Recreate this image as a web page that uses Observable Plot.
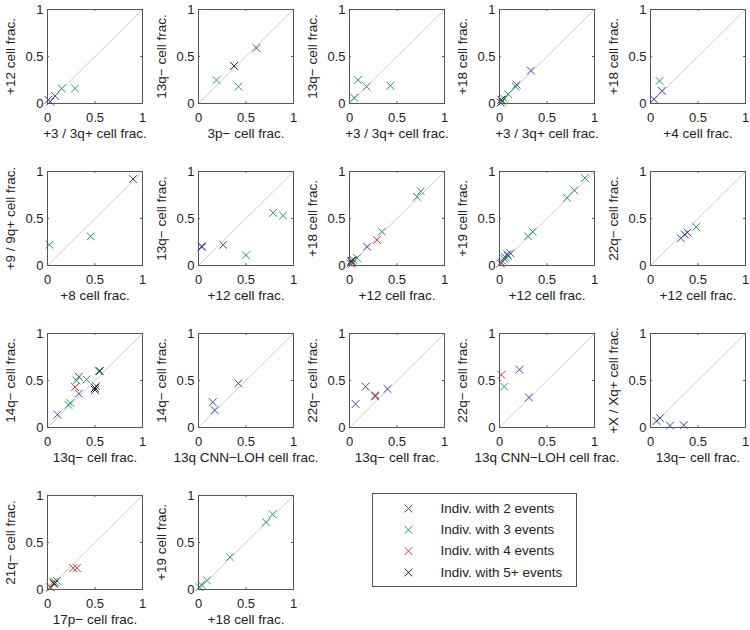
<!DOCTYPE html>
<html>
<head>
<meta charset="utf-8">
<script src="https://cdn.jsdelivr.net/npm/d3@7"></script>
<script src="https://cdn.jsdelivr.net/npm/@observablehq/plot@0.6"></script>
<style>
  html, body { margin: 0; padding: 0; background: #fff; }
  #chart { position: relative; width: 750px; height: 630px; background: #fff; overflow: hidden; }
  .cell { position: absolute; }
  .cell svg { overflow: visible; max-width: none; }
</style>
</head>
<body>
<div id="chart"></div>
<script>
// ---------- data ----------
const xLabels = [
  "+3 / 3q+ cell frac.", "3p\u2212 cell frac.", "+3 / 3q+ cell frac.", "+3 / 3q+ cell frac.", "+4 cell frac.",
  "+8 cell frac.", "+12 cell frac.", "+12 cell frac.", "+12 cell frac.", "+12 cell frac.",
  "13q\u2212 cell frac.", "13q CNN\u2212LOH cell frac.", "13q\u2212 cell frac.", "13q CNN\u2212LOH cell frac.", "13q\u2212 cell frac.",
  "17p\u2212 cell frac.", "+18 cell frac."
];
const yLabels = [
  "+12 cell frac.", "13q\u2212 cell frac.", "13q\u2212 cell frac.", "+18 cell frac.", "+18 cell frac.",
  "+9 / 9q+ cell frac.", "13q\u2212 cell frac.", "+18 cell frac.", "+19 cell frac.", "22q\u2212 cell frac.",
  "14q\u2212 cell frac.", "14q\u2212 cell frac.", "22q\u2212 cell frac.", "22q\u2212 cell frac.", "+X / Xq+ cell frac.",
  "21q\u2212 cell frac.", "+19 cell frac."
];
const tickValues = [0, 0.5, 1];
const eventGroups = [2, 3, 4, 5];
const groupLabels = ["Indiv. with 2 events", "Indiv. with 3 events", "Indiv. with 4 events", "Indiv. with 5+ events"];
const groupColors = ["#3b4ba8", "#22a05a", "#e2303c", "#1a1a1a"];

// each point: [x fraction, y fraction, number of events]
const p1 = [[0.01,0.04,2],[0.03,0.02,2],[0.08,0.08,2],[0.15,0.16,3],[0.29,0.16,3]];
const p2 = [[0.19,0.25,3],[0.42,0.18,3],[0.375,0.40,5],[0.61,0.59,2]];
const p3 = [[0.05,0.06,3],[0.09,0.25,3],[0.18,0.18,3],[0.43,0.19,3]];
const p4 = [[0.33,0.35,2],[0.18,0.20,2],[0.17,0.18,3],[0.09,0.10,3],[0.05,0.05,3],[0.03,0.02,3],[0.01,0.01,2],[0.02,0.04,5]];
const p5 = [[0.095,0.24,3],[0.12,0.135,2],[0.035,0.046,2]];
const p6 = [[0.90,0.92,2],[0.02,0.22,3],[0.455,0.31,3]];
const p7 = [[0.03,0.20,2],[0.04,0.20,2],[0.26,0.22,2],[0.50,0.11,3],[0.785,0.56,3],[0.89,0.53,3]];
const p8 = [[0.75,0.79,3],[0.71,0.73,3],[0.34,0.36,3],[0.29,0.27,4],[0.185,0.20,2],[0.08,0.08,3],[0.03,0.02,3],[0.04,0.06,2],[0.02,0.04,2],[0.01,0.02,4],[0.02,0.05,5]];
const p9 = [[0.90,0.93,3],[0.786,0.80,3],[0.71,0.72,3],[0.35,0.36,3],[0.30,0.31,3],[0.09,0.10,3],[0.05,0.07,3],[0.03,0.05,3],[0.115,0.13,2],[0.08,0.12,2],[0.06,0.09,2],[0.02,0.03,2],[0.01,0.02,4]];
const p10 = [[0.32,0.29,2],[0.36,0.33,2],[0.39,0.35,2],[0.48,0.41,3]];
const p11 = [[0.105,0.136,2],[0.22,0.24,3],[0.24,0.26,3],[0.33,0.36,2],[0.29,0.43,4],[0.305,0.50,3],[0.33,0.54,2],[0.41,0.51,3],[0.51,0.44,2],[0.50,0.40,5],[0.50,0.42,5],[0.54,0.60,3],[0.55,0.60,5]];
const p12 = [[0.42,0.47,2],[0.15,0.27,2],[0.17,0.185,2]];
const p13 = [[0.064,0.25,2],[0.17,0.435,2],[0.40,0.41,2],[0.27,0.34,5],[0.27,0.33,4]];
const p14 = [[0.02,0.56,4],[0.05,0.435,3],[0.21,0.615,2],[0.31,0.32,2]];
const p15 = [[0.064,0.07,2],[0.10,0.10,2],[0.205,0.02,2],[0.35,0.025,2]];
const p16 = [[0.27,0.227,4],[0.31,0.227,4],[0.08,0.078,3],[0.10,0.09,3],[0.025,0.025,3],[0.06,0.078,4],[0.035,0.02,4],[0.07,0.06,5]];
const p17 = [[0.78,0.80,3],[0.71,0.716,3],[0.33,0.344,3],[0.09,0.096,3],[0.03,0.05,3],[0.01,0.025,3]];
const panelPoints = [p1,p2,p3,p4,p5,p6,p7,p8,p9,p10,p11,p12,p13,p14,p15,p16,p17];

// ---------- drawing ----------
const FONT = "'Liberation Sans', Arial, Helvetica, sans-serif";
const chart = document.getElementById("chart");
const colW = 150.6, rowH = 161.9;
const mL = 48, mR = 7, mT = 9, mB = 57;
const cellW = 150, cellH = 160;

panelPoints.forEach((pts, i) => {
  const col = i % 5, row = Math.floor(i / 5);
  const data = pts.map(([x, y, g]) => ({x, y, g}));
  const svg = Plot.plot({
    width: cellW, height: cellH,
    marginLeft: mL, marginRight: mR, marginTop: mT, marginBottom: mB,
    style: {fontFamily: FONT, fontSize: "13px", color: "#222", background: "transparent", overflow: "visible"},
    x: {domain: [0, 1], ticks: tickValues, tickSize: 0, tickPadding: 9, tickFormat: d => String(d), label: null},
    y: {domain: [0, 1], ticks: tickValues, tickSize: 0, tickPadding: 4, tickFormat: d => String(d), label: null},
    color: {type: "ordinal", domain: eventGroups, range: groupColors},
    marks: [
      Plot.line([[0, 0], [1, 1]], {x: d => d[0], y: d => d[1], stroke: "#cccccc", strokeWidth: 1}),
      Plot.ruleX(tickValues, {y1: 0, y2: 0.02, stroke: "#555"}),
      Plot.ruleX(tickValues, {y1: 0.98, y2: 1, stroke: "#555"}),
      Plot.ruleY(tickValues, {x1: 0, x2: 0.02, stroke: "#555"}),
      Plot.ruleY(tickValues, {x1: 0.98, x2: 1, stroke: "#555"}),
      Plot.dot(data, {x: "x", y: "y", stroke: "g", symbol: "times", r: 3.6, strokeWidth: 1}),
      Plot.frame({stroke: "#555", strokeWidth: 1}),
      Plot.text([xLabels[i]], {frameAnchor: "bottom", lineAnchor: "middle", textAnchor: "middle", dy: 30, text: d => d, fontSize: 13.5, fill: "#222"}),
      Plot.text([yLabels[i]], {frameAnchor: "left", lineAnchor: "middle", textAnchor: "middle", dx: -37, rotate: -90, text: d => d, fontSize: 13.5, fill: "#222"})
    ]
  });
  const wrap = document.createElement("div");
  wrap.className = "cell";
  wrap.style.left = (col * colW - 0.7) + "px";
  wrap.style.top = (row * rowH + 0.3) + "px";
  wrap.appendChild(svg);
  chart.appendChild(wrap);
});

// legend
const legendData = eventGroups.map((g, i) => ({g, label: groupLabels[i]}));
const legend = Plot.plot({
  width: 204, height: 93,
  margin: 0,
  style: {fontFamily: FONT, fontSize: "13.5px", color: "#222", background: "#fff", overflow: "visible"},
  x: {domain: [0, 204], axis: null},
  y: {domain: [0, 93], axis: null, reverse: true},
  color: {type: "ordinal", domain: eventGroups, range: groupColors},
  marks: [
    Plot.frame({stroke: "#555", strokeWidth: 1}),
    Plot.dot(legendData, {x: () => 36, y: (d, i) => 15 + i * 21.3, stroke: "g", symbol: "times", r: 3.6, strokeWidth: 1}),
    Plot.text(legendData, {x: () => 68, y: (d, i) => 15 + i * 21.3, text: "label", textAnchor: "start", fill: "#222", fontSize: 13.5})
  ]
});
const lw = document.createElement("div");
lw.className = "cell";
lw.style.left = "372px";
lw.style.top = "493px";
lw.appendChild(legend);
chart.appendChild(lw);
</script>
</body>
</html>
